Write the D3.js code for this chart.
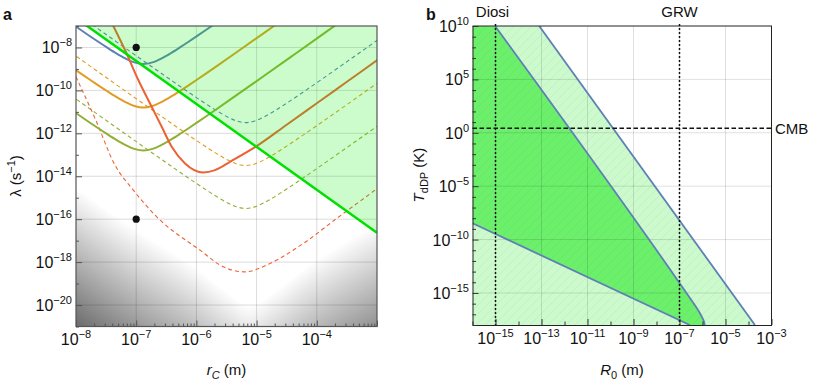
<!DOCTYPE html>
<html>
<head>
<meta charset="utf-8">
<script src="https://cdn.jsdelivr.net/npm/d3@7"></script>
<style>
  body { margin: 0; background: #fff; }
  svg text { font-family: "Liberation Sans", Arial, sans-serif; fill: #111; }
</style>
</head>
<body>
<svg id="chart" width="830" height="381"></svg>
<script>
// ---- panel a : points are [log10 rC (m), log10 lambda (1/s)]
const blueSolid = [[-8.08,-6.873],[-7.93,-7.164],[-7.78,-7.452],[-7.63,-7.735],[-7.48,-8.011],[-7.33,-8.275],[-7.18,-8.512],[-7.03,-8.696],[-6.88,-8.77],[-6.73,-8.696],[-6.58,-8.512],[-6.43,-8.275],[-6.28,-8.011],[-6.13,-7.735],[-5.98,-7.452],[-5.83,-7.164],[-5.68,-6.873]]
const orangeSolid = [[-8.08,-8.903],[-7.93,-9.194],[-7.78,-9.482],[-7.63,-9.765],[-7.48,-10.041],[-7.33,-10.305],[-7.18,-10.542],[-7.03,-10.726],[-6.88,-10.80],[-6.73,-10.726],[-6.58,-10.542],[-6.43,-10.305],[-6.28,-10.041],[-6.13,-9.765],[-5.98,-9.482],[-5.83,-9.194],[-5.68,-8.903],[-5.38,-8.316],[-4.88,-7.33],[-4.38,-6.338]]
const greenSolid = [[-8.08,-10.903],[-7.93,-11.194],[-7.78,-11.482],[-7.63,-11.765],[-7.48,-12.041],[-7.33,-12.305],[-7.18,-12.542],[-7.03,-12.726],[-6.88,-12.80],[-6.73,-12.726],[-6.58,-12.542],[-6.43,-12.305],[-6.28,-12.041],[-6.13,-11.765],[-5.98,-11.482],[-5.83,-11.194],[-5.68,-10.903],[-5.38,-10.316],[-4.88,-9.33],[-4.38,-8.338],[-3.88,-7.343],[-3.38,-6.347]]
const redSolid = [[-7.45,-6.6],[-7.38,-7.0],[-7.186,-8.119],[-6.965,-9.517],[-6.743,-10.762],[-6.576,-11.695],[-6.41,-12.627],[-6.189,-13.401],[-5.885,-13.821],[-5.691,-13.713],[-5.442,-13.326],[-4.998,-12.594],[-4.5,-11.6],[-4.0,-10.6],[-3.5,-9.6],[-2.95,-8.5]]

const blueDashed = [[-8.68,-5.047],[-8.18,-6.043],[-7.68,-7.038],[-7.18,-8.03],[-6.68,-9.016],[-6.38,-9.603],[-6.08,-10.182],[-5.78,-10.741],[-5.63,-11.005],[-5.48,-11.242],[-5.33,-11.426],[-5.18,-11.50],[-5.03,-11.426],[-4.88,-11.242],[-4.73,-11.005],[-4.58,-10.741],[-4.28,-10.182],[-3.98,-9.603],[-3.68,-9.016],[-3.18,-8.03],[-2.68,-7.038]]
const orangeDashed = [[-8.18,-8.043],[-7.68,-9.038],[-7.18,-10.03],[-6.68,-11.016],[-6.38,-11.603],[-6.08,-12.182],[-5.78,-12.741],[-5.63,-13.005],[-5.48,-13.242],[-5.33,-13.426],[-5.18,-13.50],[-5.03,-13.426],[-4.88,-13.242],[-4.73,-13.005],[-4.58,-12.741],[-4.28,-12.182],[-3.98,-11.603],[-3.68,-11.016],[-3.18,-10.03],[-2.68,-9.038]]
const greenDashed = [[-8.18,-10.043],[-7.68,-11.038],[-7.18,-12.03],[-6.68,-13.016],[-6.38,-13.603],[-6.08,-14.182],[-5.78,-14.741],[-5.63,-15.005],[-5.48,-15.242],[-5.33,-15.426],[-5.18,-15.50],[-5.03,-15.426],[-4.88,-15.242],[-4.73,-15.005],[-4.58,-14.741],[-4.28,-14.182],[-3.98,-13.603],[-3.68,-13.016],[-3.18,-12.03],[-2.68,-11.038]]
const redDashed = [[-8.05,-9.06],[-8.0,-9.364],[-7.684,-11.303],[-7.352,-13.48],[-7.048,-14.646],[-6.659,-15.89],[-5.94,-17.443],[-5.553,-18.221],[-5.193,-18.455],[-4.777,-18.063],[-4.224,-17.131],[-3.669,-15.965],[-3.033,-14.646],[-2.95,-14.47]]

const greenBound = [[-8,-6.63],[-3,-16.63]]
const grayEdge = [[-8,-14.46],[-7,-16.42],[-6.0,-18.2],[-5.5,-19.3],[-5.11,-19.95],[-4.7,-19.3],[-4.28,-18.38],[-3,-16.14]]
const dotsA = [[-7,-8],[-7,-16]]

const xTicksA = [-8,-7,-6,-5,-4]
const yTicksA = [-8,-10,-12,-14,-16,-18,-20]

// ---- panel b : points are [log10 R0 (m), log10 TdDP (K)]
const upperBound = [[-13.1,10],[-3.72,-18]]
const middleBound = [[-15.02,10],[-7.0,-14.06],[-6.6,-15.3],[-6.3,-16.25],[-6.1,-16.95],[-5.98,-17.45],[-5.92,-17.8],[-5.9,-18]]
const lowerBound = [[-16,-8.47],[-6.55,-18]]
const refLinesX = [{name: "Diosi", r: 1e-15}, {name: "GRW", r: 1e-7}]
const cmbT = 2.725

const xTicksB = [-15,-13,-11,-9,-7,-5,-3]
const yTicksB = [10,5,0,-5,-10,-15]

const palette = {blue: "#5e81b5", orange: "#e19c24", green: "#8fb032", red: "#eb6235"}

const svg = d3.select("#chart")
const defs = svg.append("defs")

function sup(text, exp, size, supSize) {
    text.style("font-size", size + "px")
    text.append("tspan").text("10")
    text.append("tspan").attr("dy", -7).style("font-size", supSize + "px")
        .text(exp < 0 ? "\u2212" + (-exp) : String(exp))
}

// ================= panel a =================
const xA = d3.scaleLog().domain([1e-8, 1e-3]).range([76, 377])
const yA = d3.scaleLog().domain([1e-21, 1e-7]).range([326.5, 26])
const pa = svg.append("g")

defs.append("clipPath").attr("id", "clipA").append("rect")
    .attr("x", 76).attr("y", 26).attr("width", 301).attr("height", 300.5)

const lineA = d3.line()
    .x(d => xA(10 ** d[0]))
    .y(d => yA(10 ** d[1]))
    .curve(d3.curveMonotoneX)

const plotA = pa.append("g").attr("clip-path", "url(#clipA)")

// grey excluded region, darker the further it lies below the edge
var shade = d3.scaleLinear().domain([0, 7]).range(["#ffffff", "#606060"])
var steps = d3.range(1, 71).map(k => k * 0.1)
plotA.selectAll(".shade")
    .data(steps)
    .enter()
    .append("path")
    .attr("class", "shade")
    .attr("fill", d => shade(d))
    .attr("d", s => d3.area()
        .x(d => xA(10 ** d[0]))
        .y0(yA(1e-21))
        .y1(d => yA(10 ** (d[1] - s)))
        .curve(d3.curveMonotoneX)(grayEdge))

// grid
plotA.selectAll(".gx").data([-7, -6, -5, -4]).enter().append("line")
    .attr("x1", d => xA(10 ** d)).attr("x2", d => xA(10 ** d))
    .attr("y1", 26).attr("y2", 326.5)
    .attr("stroke", "rgba(0,0,0,0.14)")
plotA.selectAll(".gy").data(yTicksA).enter().append("line")
    .attr("y1", d => yA(10 ** d)).attr("y2", d => yA(10 ** d))
    .attr("x1", 76).attr("x2", 377)
    .attr("stroke", "rgba(0,0,0,0.14)")

var dashed = [[blueDashed, palette.blue], [orangeDashed, palette.orange], [greenDashed, palette.green], [redDashed, palette.red]]
plotA.selectAll(".dashed").data(dashed).enter().append("path")
    .attr("d", d => lineA(d[0]))
    .attr("fill", "none")
    .attr("stroke", d => d[1])
    .attr("stroke-width", 1.1)
    .attr("stroke-dasharray", "4,3")

var solid = [[blueSolid, palette.blue], [orangeSolid, palette.orange], [greenSolid, palette.green], [redSolid, palette.red]]
plotA.selectAll(".solid").data(solid).enter().append("path")
    .attr("d", d => lineA(d[0]))
    .attr("fill", "none")
    .attr("stroke", d => d[1])
    .attr("stroke-width", 2)

// excluded by experiment: everything above the green bound
plotA.append("path")
    .datum(greenBound)
    .attr("d", d3.area().x(d => xA(10 ** d[0])).y0(yA(1e-7)).y1(d => yA(10 ** d[1])))
    .attr("fill", "#00f000")
    .attr("fill-opacity", 0.2)
plotA.append("path")
    .datum(greenBound)
    .attr("d", d3.line().x(d => xA(10 ** d[0])).y(d => yA(10 ** d[1])))
    .attr("fill", "none")
    .attr("stroke", "#00e000")
    .attr("stroke-width", 2.5)

plotA.selectAll(".dot").data(dotsA).enter().append("circle")
    .attr("cx", d => xA(10 ** d[0]))
    .attr("cy", d => yA(10 ** d[1]))
    .attr("r", 3.6)
    .attr("fill", "#111")

pa.append("rect").attr("x", 76).attr("y", 26).attr("width", 301).attr("height", 300.5)
    .attr("fill", "none").attr("stroke", "#555").attr("stroke-width", 1.2)

// ticks
var minorXA = []
d3.range(-8, -3).forEach(e => d3.range(2, 10).forEach(k => minorXA.push(k * 10 ** e)))
pa.append("g").attr("transform", "translate(0,326.5)")
    .call(d3.axisBottom(xA).tickValues(minorXA).tickSizeInner(-3).tickSizeOuter(0).tickFormat(""))
    .call(g => g.select(".domain").remove())
pa.append("g").attr("transform", "translate(0,326.5)")
    .call(d3.axisBottom(xA).tickValues([1e-8, 1e-7, 1e-6, 1e-5, 1e-4, 1e-3]).tickSizeInner(-6).tickSizeOuter(0).tickFormat(""))
    .call(g => g.select(".domain").remove())
pa.append("g").attr("transform", "translate(76,0)")
    .call(d3.axisLeft(yA).tickValues(d3.range(-21, -6, 2).map(e => 10 ** e)).tickSizeInner(-3).tickSizeOuter(0).tickFormat(""))
    .call(g => g.select(".domain").remove())
pa.append("g").attr("transform", "translate(76,0)")
    .call(d3.axisLeft(yA).tickValues(yTicksA.map(e => 10 ** e)).tickSizeInner(-6).tickSizeOuter(0).tickFormat(""))
    .call(g => g.select(".domain").remove())
pa.selectAll(".tick line").attr("stroke", "#555")

pa.selectAll(".xlabA").data(xTicksA).enter().append("text")
    .attr("x", d => xA(10 ** d)).attr("y", 345)
    .attr("text-anchor", "middle")
    .each(function (d) { sup(d3.select(this), d, 16, 11) })
pa.selectAll(".ylabA").data(yTicksA).enter().append("text")
    .attr("x", 72).attr("y", d => yA(10 ** d) + 6)
    .attr("text-anchor", "end")
    .each(function (d) { sup(d3.select(this), d, 16, 11) })

var xt = pa.append("text").attr("x", 226.5).attr("y", 375).attr("text-anchor", "middle").style("font-size", "15px")
xt.append("tspan").style("font-style", "italic").text("r")
xt.append("tspan").attr("dy", 4).style("font-size", "11px").style("font-style", "italic").text("C")
xt.append("tspan").attr("dy", -4).text(" (m)")

var yt = pa.append("text").attr("transform", "translate(21,176) rotate(-90)").attr("text-anchor", "middle").style("font-size", "15px")
yt.append("tspan").text("\u03bb (s")
yt.append("tspan").attr("dy", -6).style("font-size", "11px").text("\u22121")
yt.append("tspan").attr("dy", 6).text(")")

svg.append("text").attr("x", 3).attr("y", 20).style("font-size", "16px").style("font-weight", "bold").text("a")

// ================= panel b =================
const xB = d3.scaleLog().domain([1e-16, 1e-3]).range([472.5, 771.5])
const yB = d3.scaleLog().domain([1e-18, 1e10]).range([325, 26])
const pb = svg.append("g")

defs.append("clipPath").attr("id", "clipB").append("rect")
    .attr("x", 472.5).attr("y", 26).attr("width", 299).attr("height", 299)

var hatch = defs.append("pattern").attr("id", "hatch")
    .attr("patternUnits", "userSpaceOnUse").attr("width", 9).attr("height", 9)
hatch.append("path").attr("d", "M0,9 L9,0 M-2,2 L2,-2 M7,11 L11,7")
    .attr("stroke", "rgba(0,90,0,0.055)").attr("stroke-width", 1)

const plotB = pb.append("g").attr("clip-path", "url(#clipB)")
const px = d => xB(10 ** d[0])
const py = d => yB(10 ** d[1])

var lightArea = d3.area().y(py).x0(xB(1e-16)).x1(px)
plotB.append("path").datum(upperBound).attr("d", lightArea).attr("fill", "#cdfacd")

var midLine = d3.line().x(px).y(py).curve(d3.curveMonotoneX)
var darkPath = midLine(middleBound)
    + "L" + px(lowerBound[1]) + "," + py(lowerBound[1])
    + "L" + px(lowerBound[0]) + "," + py(lowerBound[0])
    + "L" + xB(1e-16) + "," + yB(1e10) + "Z"
plotB.append("path").attr("d", darkPath).attr("fill", "#6cf06c")
plotB.append("path").datum(upperBound).attr("d", lightArea).attr("fill", "url(#hatch)")

// grid
plotB.selectAll(".gx").data(xTicksB.slice(0, -1)).enter().append("line")
    .attr("x1", d => xB(10 ** d)).attr("x2", d => xB(10 ** d))
    .attr("y1", 26).attr("y2", 325)
    .attr("stroke", "rgba(0,0,0,0.12)")
plotB.selectAll(".gy").data(yTicksB.slice(1)).enter().append("line")
    .attr("y1", d => yB(10 ** d)).attr("y2", d => yB(10 ** d))
    .attr("x1", 472.5).attr("x2", 771.5)
    .attr("stroke", "rgba(0,0,0,0.12)")

var straight = d3.line().x(px).y(py)
plotB.append("path").datum(upperBound).attr("d", straight)
    .attr("fill", "none").attr("stroke", palette.blue).attr("stroke-width", 1.8)
plotB.append("path").datum(lowerBound).attr("d", straight)
    .attr("fill", "none").attr("stroke", palette.blue).attr("stroke-width", 1.8)
plotB.append("path").datum(middleBound).attr("d", midLine)
    .attr("fill", "none").attr("stroke", palette.blue).attr("stroke-width", 1.8)

pb.append("path").attr("d", "M772,26 L472.5,26 M771.5,26 L771.5,325")
    .attr("stroke", "#222").attr("stroke-width", 1).attr("fill", "none")

// reference scales
pb.selectAll(".ref").data(refLinesX).enter().append("line")
    .attr("x1", d => xB(d.r)).attr("x2", d => xB(d.r))
    .attr("y1", 24).attr("y2", 325)
    .attr("stroke", "#111").attr("stroke-width", 1.5).attr("stroke-dasharray", "2,2")
pb.selectAll(".reflab").data(refLinesX).enter().append("text")
    .attr("x", d => xB(d.r) - (d.name === "Diosi" ? 3 : 0)).attr("y", 17)
    .attr("text-anchor", "middle").style("font-size", "15px")
    .text(d => d.name)
pb.append("line")
    .attr("x1", 472.5).attr("x2", 773)
    .attr("y1", yB(cmbT)).attr("y2", yB(cmbT))
    .attr("stroke", "#111").attr("stroke-width", 1.5).attr("stroke-dasharray", "4.5,2.5")
pb.append("text").attr("x", 775).attr("y", yB(cmbT) + 5.5).style("font-size", "15px").text("CMB")

// axes
pb.append("g").attr("transform", "translate(0,325)")
    .call(d3.axisBottom(xB).tickValues(d3.range(-16, -3, 2).map(e => 10 ** e)).tickSizeInner(-3.5).tickSizeOuter(0).tickFormat(""))
    .call(g => g.select(".domain").remove())
pb.append("g").attr("transform", "translate(0,325)")
    .call(d3.axisBottom(xB).tickValues(xTicksB.map(e => 10 ** e)).tickSizeInner(-6).tickSizeOuter(0).tickFormat(""))
    .call(g => g.select(".domain").attr("stroke", "#222"))
pb.append("g").attr("transform", "translate(472.5,0)")
    .call(d3.axisLeft(yB).tickValues(d3.range(-18, 11).filter(e => e % 5 !== 0).map(e => 10 ** e)).tickSizeInner(-3.5).tickSizeOuter(0).tickFormat(""))
    .call(g => g.select(".domain").remove())
pb.append("g").attr("transform", "translate(472.5,0)")
    .call(d3.axisLeft(yB).tickValues(yTicksB.map(e => 10 ** e)).tickSizeInner(-6).tickSizeOuter(0).tickFormat(""))
    .call(g => g.select(".domain").attr("stroke", "#222"))
pb.selectAll(".tick line").attr("stroke", "#333")

pb.selectAll(".xlabB").data(xTicksB).enter().append("text")
    .attr("x", d => xB(10 ** d)).attr("y", 343.5)
    .attr("text-anchor", "middle")
    .each(function (d) { sup(d3.select(this), d, 16, 11) })
pb.selectAll(".ylabB").data(yTicksB).enter().append("text")
    .attr("x", 469).attr("y", d => yB(10 ** d) + 6)
    .attr("text-anchor", "end")
    .each(function (d) { sup(d3.select(this), d, 16, 11) })

var xtb = pb.append("text").attr("x", 622).attr("y", 375).attr("text-anchor", "middle").style("font-size", "15px")
xtb.append("tspan").style("font-style", "italic").text("R")
xtb.append("tspan").attr("dy", 4).style("font-size", "11px").text("0")
xtb.append("tspan").attr("dy", -4).text(" (m)")

var ytb = pb.append("text").attr("transform", "translate(424,175) rotate(-90)").attr("text-anchor", "middle").style("font-size", "15px")
ytb.append("tspan").style("font-style", "italic").text("T")
ytb.append("tspan").attr("dy", 4).style("font-size", "11px").text("dDP")
ytb.append("tspan").attr("dy", -4).text(" (K)")

svg.append("text").attr("x", 426).attr("y", 20).style("font-size", "16px").style("font-weight", "bold").text("b")
</script>
</body>
</html>
